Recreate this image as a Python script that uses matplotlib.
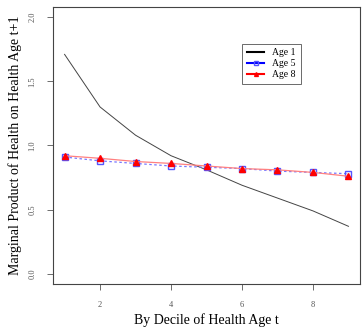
import matplotlib
matplotlib.use("Agg")
import matplotlib.pyplot as plt

plt.rcParams['font.family'] = ['Liberation Serif', 'DejaVu Serif']

decile = [1, 2, 3, 4, 5, 6, 7, 8, 9]
age1 = [1.71, 1.30, 1.08, 0.92, 0.81, 0.69, 0.59, 0.49, 0.37]
age5 = [0.91, 0.88, 0.86, 0.84, 0.83, 0.82, 0.80, 0.79, 0.78]
age8 = [0.92, 0.90, 0.875, 0.86, 0.84, 0.82, 0.81, 0.79, 0.76]
xticks = [2, 4, 6, 8]
yticks = [0.0, 0.5, 1.0, 1.5, 2.0]

fig = plt.figure(figsize=(3.62, 3.28), dpi=100)
ax = fig.add_axes([0.147, 0.134, 0.847, 0.845])

ax.plot(decile, age1, color="#444444", lw=0.7, label="Age 1")
ax.plot(decile, age5, color="#7777ff", lw=0.9, ls=(0, (2, 2)),
        marker="s", ms=4, mfc="none", mec="#5555ff", mew=1.0, label="Age 5")
ax.plot(decile, age8, color="#ff8080", lw=0.9,
        marker="^", ms=4, mfc="red", mec="red", label="Age 8")

ax.set_xlim(0.68, 9.32)
ax.set_ylim(-0.08, 2.08)
ax.set_xticks(xticks)
ax.set_xticklabels([str(t) for t in xticks])
ax.set_yticks(yticks)
ax.set_yticklabels([f"{t:.1f}" for t in yticks], rotation=90, va="center")
ax.tick_params(labelsize=6, colors="#555555", length=4, width=0.6, pad=8)
for s in ax.spines.values():
    s.set_color("#444444")
    s.set_linewidth(0.8)

ax.set_xlabel("By Decile of Health Age t", fontsize=10, labelpad=3)
ax.set_ylabel("Marginal Product of Health on Health Age t+1", fontsize=10, labelpad=5)

leg = ax.legend(loc="upper left", bbox_to_anchor=(0.6, 0.885), fontsize=7,
                frameon=True, fancybox=False, handlelength=1.8,
                borderpad=0.5, labelspacing=0.2, handletextpad=0.8,
                markerscale=0.7)
leg.get_frame().set_edgecolor("#444444")
leg.get_frame().set_linewidth(0.7)
for h, c in zip(leg.get_lines(), ["black", "blue", "red"]):
    h.set_color(c)
    h.set_linestyle("-")
    h.set_linewidth(1.5)

fig.savefig("out.png", dpi=100)
